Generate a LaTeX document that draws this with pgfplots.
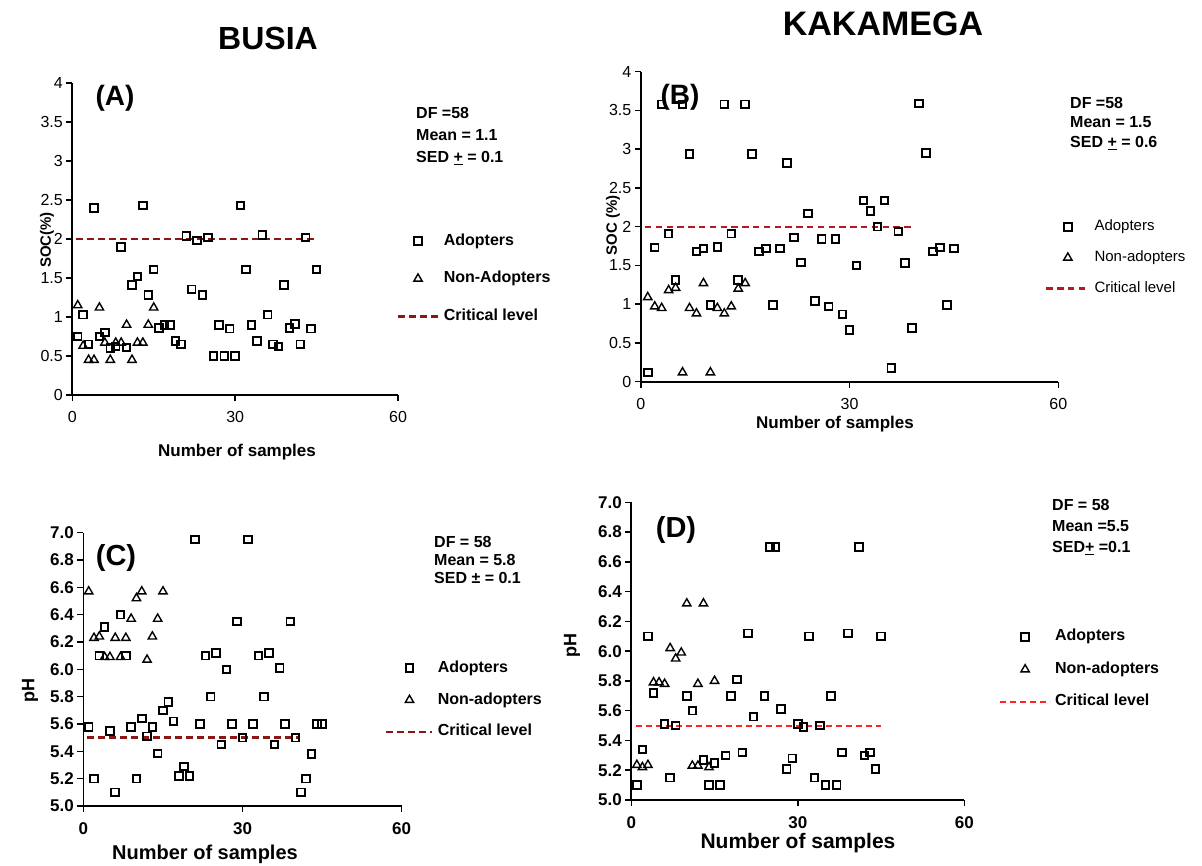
\documentclass[border=0pt]{standalone}
\usepackage{fontspec}
\setmainfont{Liberation Sans}
\usepackage{pgfplots}
\pgfplotsset{compat=1.18}
\definecolor{critA}{RGB}{139,22,22}
\definecolor{critB}{RGB}{178,28,32}
\definecolor{critD}{RGB}{255,35,35}
\newcommand{\fs}[1]{\fontsize{#1}{#1}\selectfont}
\pgfplotsset{
  panel/.style={
    scale only axis, anchor=south west, clip=false,
    axis lines*=left, xmin=0, xmax=60, xtick={0,30,60},
    tick align=outside, major tick length=6pt,
    axis line style={line width=1.8pt, black},
    major tick style={line width=1.5pt, black},
    /pgf/number format/assume math mode=true,
    xticklabel style={yshift=-7pt},
    legend cell align=left,
  },
  limg/.style={legend image code/.code={\draw[mark repeat=2,mark phase=2,##1] plot coordinates {(0pt,0pt)(#1/2,0pt)(#1,0pt)};}},
  adopt/.style={only marks, mark=square, mark size=3.8pt, mark options={line width=1.9pt, black, solid}, black},
  nonadopt/.style={only marks, mark=triangle, mark size=4.8pt, mark options={line width=1.4pt, black, solid}, black},
}
\begin{document}
\begin{tikzpicture}
\path[use as bounding box] (0,0) rectangle (1202pt,-865pt);
% ---------------- Panel A ----------------
\begin{axis}[panel, at={(72.3pt,-395pt)}, width=325.7pt, height=312pt,
  ymin=0, ymax=4, ytick={0,0.5,1,1.5,2,2.5,3,3.5,4},
  tick label style={font=\fs{16}},
  limg=41pt,
  legend style={at={(0.9939,0.516)}, anchor=north west, draw=none, fill=none, inner sep=0pt,
    row sep=23.5pt, column sep=4pt, nodes={inner sep=0pt, text height=11pt, text depth=3pt},
    font=\bfseries\fs{16}}]
\addplot[adopt] coordinates {(1,0.75)(2,1.03)(3,0.65)(4,2.40)(5,0.75)(6,0.80)(7,0.60)(8,0.62)(9,1.90)(10,0.61)(11,1.41)(12,1.52)(13,2.43)(14,1.28)(15,1.61)(16,0.86)(17,0.90)(18,0.90)(19,0.69)(20,0.65)(21,2.04)(22,1.355)(23,1.98)(24,1.28)(25,2.02)(26,0.50)(27,0.90)(28,0.50)(29,0.85)(30,0.50)(31,2.43)(32,1.61)(33,0.90)(34,0.69)(35,2.05)(36,1.03)(37,0.65)(38,0.62)(39,1.41)(40,0.86)(41,0.91)(42,0.65)(43,2.02)(44,0.85)(45,1.61)};
\addplot[nonadopt] coordinates {(1,1.15)(2,0.63)(3,0.45)(4,0.45)(5,1.12)(6,0.67)(7,0.45)(8,0.67)(9,0.67)(10,0.90)(11,0.45)(12,0.67)(13,0.67)(14,0.90)(15,1.12)};
\addplot[critA, line width=2.6pt, dash pattern=on 7pt off 4pt] coordinates {(0.6,2)(45,2)};
\legend{Adopters, Non-Adopters, Critical level}
\end{axis}
% ---------------- Panel B ----------------
\begin{axis}[panel, at={(640.8pt,-381.7pt)}, width=417.5pt, height=310pt,
  ymin=0, ymax=4, ytick={0,0.5,1,1.5,2,2.5,3,3.5,4},
  tick label style={font=\fs{16}},
  limg=43pt,
  legend style={at={(0.968,0.5226)}, anchor=north west, draw=none, fill=none, inner sep=0pt,
    row sep=16.8pt, column sep=4pt, nodes={inner sep=0pt, text height=11pt, text depth=3pt},
    font=\fs{15}}]
\addplot[adopt] coordinates {(1,0.12)(2,1.73)(3,3.58)(4,1.91)(5,1.31)(6,3.58)(7,2.94)(8,1.68)(9,1.72)(10,0.99)(11,1.74)(12,3.58)(13,1.91)(14,1.31)(15,3.58)(16,2.94)(17,1.68)(18,1.72)(19,0.99)(20,1.72)(21,2.82)(22,1.86)(23,1.54)(24,2.17)(25,1.04)(26,1.84)(27,0.97)(28,1.84)(29,0.87)(30,0.67)(31,1.50)(32,2.34)(33,2.20)(34,2.00)(35,2.34)(36,0.18)(37,1.94)(38,1.53)(39,0.69)(40,3.59)(41,2.95)(42,1.68)(43,1.73)(44,0.99)(45,1.72)};
\addplot[nonadopt] coordinates {(1,1.09)(2,0.97)(3,0.95)(4,1.18)(5,1.21)(6,0.12)(7,0.95)(8,0.88)(9,1.27)(10,0.12)(11,0.95)(12,0.88)(13,0.97)(14,1.20)(15,1.27)};
\addplot[critB, line width=2.4pt, dash pattern=on 6.5pt off 4.3pt] coordinates {(0.6,2)(39,2)};
\legend{Adopters, Non-adopters, Critical level}
\end{axis}
% ---------------- Panel C ----------------
\begin{axis}[panel, at={(83.4pt,-806pt)}, width=318.3pt, height=273.3pt,
  ymin=5, ymax=7, ytick={5,5.2,5.4,5.6,5.8,6,6.2,6.4,6.6,6.8,7},
  yticklabel style={/pgf/number format/.cd, fixed, fixed zerofill, precision=1},
  tick label style={font=\bfseries\fs{17}},
  limg=46pt,
  legend style={at={(0.9475,0.5306)}, anchor=north west, draw=none, fill=none, inner sep=0pt,
    row sep=17.8pt, column sep=4pt, nodes={inner sep=0pt, text height=11pt, text depth=3pt},
    font=\bfseries\fs{16}}]
\addplot[adopt] coordinates {(1,5.58)(2,5.20)(3,6.10)(4,6.31)(5,5.55)(6,5.10)(7,6.40)(8,6.10)(9,5.58)(10,5.20)(11,5.64)(12,5.51)(13,5.58)(14,5.385)(15,5.70)(16,5.76)(17,5.62)(18,5.22)(19,5.29)(20,5.22)(21,6.95)(22,5.60)(23,6.10)(24,5.80)(25,6.12)(26,5.45)(27,6.00)(28,5.60)(29,6.35)(30,5.50)(31,6.95)(32,5.60)(33,6.10)(34,5.80)(35,6.12)(36,5.45)(37,6.01)(38,5.60)(39,6.35)(40,5.50)(41,5.10)(42,5.20)(43,5.38)(44,5.60)(45,5.60)};
\addplot[nonadopt] coordinates {(1,6.57)(2,6.23)(3,6.24)(4,6.09)(5,6.09)(6,6.23)(7,6.09)(8,6.23)(9,6.37)(10,6.52)(11,6.57)(12,6.07)(13,6.24)(14,6.37)(15,6.57)};
\addplot[critA, line width=2.6pt, dash pattern=on 7pt off 4pt] coordinates {(0.7,5.5)(40.5,5.5)};
\legend{Adopters, Non-adopters, Critical level}
\end{axis}
% ---------------- Panel D ----------------
\begin{axis}[panel, at={(631.3pt,-800pt)}, width=333pt, height=297.7pt,
  ymin=5, ymax=7, ytick={5,5.2,5.4,5.6,5.8,6,6.2,6.4,6.6,6.8,7},
  yticklabel style={/pgf/number format/.cd, fixed, fixed zerofill, precision=1},
  tick label style={font=\bfseries\fs{17}},
  limg=50pt,
  legend style={at={(1.104,0.572)}, anchor=north west, draw=none, fill=none, inner sep=0pt,
    row sep=18.5pt, column sep=4pt, nodes={inner sep=0pt, text height=11pt, text depth=3pt},
    font=\bfseries\fs{16}}]
\addplot[adopt] coordinates {(1,5.10)(2,5.34)(3,6.10)(4,5.72)(6,5.51)(7,5.15)(8,5.50)(10,5.70)(11,5.60)(13,5.27)(14,5.10)(15,5.25)(16,5.10)(17,5.30)(18,5.70)(19,5.81)(20,5.32)(21,6.12)(22,5.56)(24,5.70)(25,6.70)(26,6.70)(27,5.61)(28,5.21)(29,5.28)(30,5.51)(31,5.49)(32,6.10)(33,5.15)(34,5.50)(35,5.10)(36,5.70)(37,5.10)(38,5.32)(39,6.12)(41,6.70)(42,5.30)(43,5.32)(44,5.21)(45,6.10)};
\addplot[nonadopt] coordinates {(1,5.235)(2,5.22)(3,5.235)(4,5.79)(5,5.79)(6,5.78)(7,6.02)(8,5.95)(9,5.99)(10,6.32)(11,5.23)(12,5.78)(12,5.23)(13,6.32)(14,5.22)(15,5.80)};
\addplot[critD, line width=2pt, dash pattern=on 6pt off 4pt] coordinates {(0.8,5.5)(45,5.5)};
\legend{Adopters, Non-adopters, Critical level}
\end{axis}
% ---------------- Texts ----------------
\node[font=\bfseries\fs{32}] at (268pt,-38pt) {BUSIA};
\node[font=\bfseries\fs{34}] at (883pt,-24pt) {KAKAMEGA};
\node[font=\bfseries\fs{28}] at (115pt,-98pt) {(A)};
\node[font=\bfseries\fs{28}] at (680pt,-97pt) {(B)};
\node[font=\bfseries\fs{29}] at (116pt,-558pt) {(C)};
\node[font=\bfseries\fs{29}] at (676pt,-530pt) {(D)};
\node[anchor=north west, inner sep=0pt, align=left, font=\bfseries\fontsize{16}{22}\selectfont] at (416pt,-107pt) {DF =58\\Mean = 1.1\\SED \underline{+} = 0.1};
\node[anchor=north west, inner sep=0pt, align=left, font=\bfseries\fontsize{16}{19.5}\selectfont] at (1070pt,-97pt) {DF =58\\Mean = 1.5\\SED \underline{+} = 0.6};
\node[anchor=north west, inner sep=0pt, align=left, font=\bfseries\fontsize{16}{18}\selectfont] at (434pt,-536pt) {DF = 58\\Mean = 5.8\\SED ± = 0.1};
\node[anchor=north west, inner sep=0pt, align=left, font=\bfseries\fontsize{16}{21}\selectfont] at (1052pt,-499pt) {DF = 58\\Mean =5.5\\SED\underline{+} =0.1};
\node[rotate=90, font=\bfseries\fs{15}] at (47pt,-240pt) {SOC(\%)};
\node[rotate=90, font=\bfseries\fs{15}] at (613pt,-225pt) {SOC (\%)};
\node[rotate=90, font=\bfseries\fs{18}] at (30pt,-690pt) {pH};
\node[rotate=90, font=\bfseries\fs{18}] at (572pt,-645pt) {pH};
\node[font=\bfseries\fs{17}] at (237pt,-452pt) {Number of samples};
\node[font=\bfseries\fs{17}] at (835pt,-424pt) {Number of samples};
\node[font=\bfseries\fs{20}] at (205pt,-854pt) {Number of samples};
\node[font=\bfseries\fs{21}] at (798pt,-843pt) {Number of samples};
\end{tikzpicture}
\end{document}
